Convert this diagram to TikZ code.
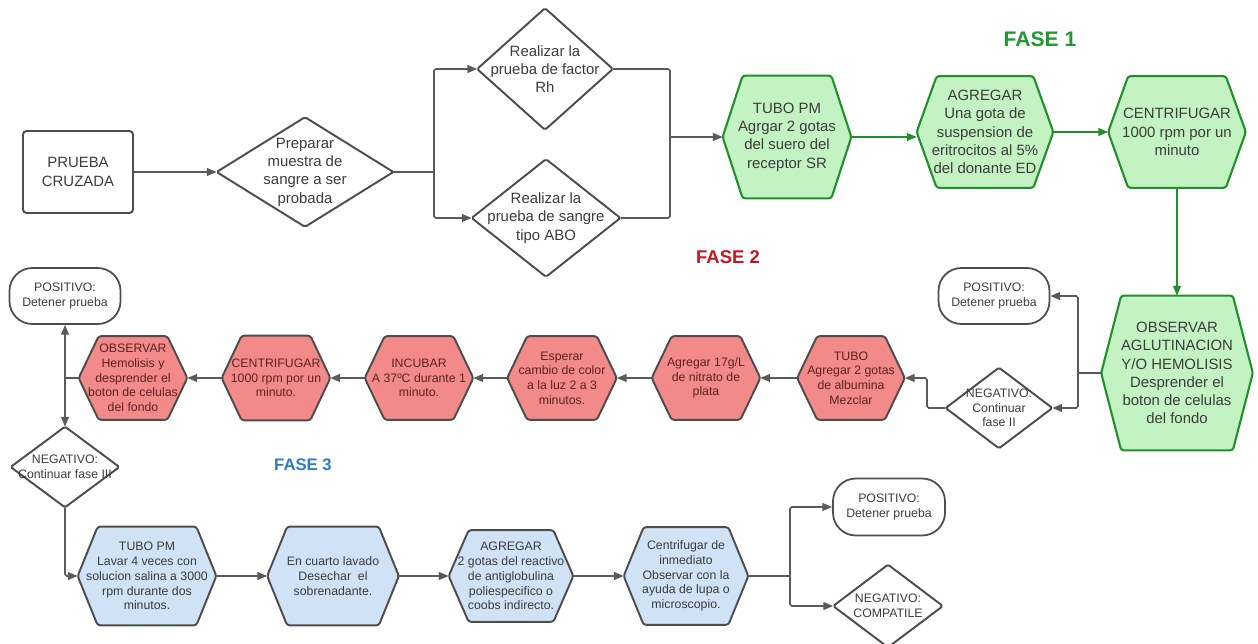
\documentclass[tikz,border=0pt]{standalone}
\usepackage{fontspec}
\setmainfont{Liberation Sans}
\usetikzlibrary{arrows.meta,backgrounds}

\newlength{\pxu}
\setlength{\pxu}{0.02cm}

\definecolor{lgreen}{HTML}{C3F2C3}
\definecolor{dgreen}{HTML}{22902A}
\definecolor{lred}{HTML}{F28A8A}
\definecolor{lblue}{HTML}{CFE2F6}
\definecolor{bordgray}{HTML}{4D4D4D}
\definecolor{linegray}{HTML}{5A5A5A}
\definecolor{txtgray}{HTML}{3C3C3C}
\definecolor{txtred}{HTML}{5E2222}
\definecolor{faseg}{HTML}{1F9A30}
\definecolor{faser}{HTML}{C8141E}
\definecolor{faseb}{HTML}{2C7BC4}

\tikzset{
	nbase/.style={inner sep=0pt, align=center, text=txtgray, font=\fontsize{8.5}{10.4}\selectfont},
	nsmall/.style={nbase, font=\fontsize{7}{8.4}\selectfont},
	sz/.style 2 args={minimum width=#1\pxu, minimum height=#2\pxu},
	endbox/.style={nsmall, draw=bordgray, line width=1pt, rounded corners=13pt},
	hexg/.style={fill=lgreen, draw=dgreen, line width=1.2pt, rounded corners=1.5pt},
	hexr/.style={fill=lred, draw=bordgray, line width=1.1pt, rounded corners=1.5pt},
	hexb/.style={fill=lblue, draw=bordgray, line width=1.1pt, rounded corners=1.5pt},
	diab/.style={fill=white, draw=bordgray, line width=1.1pt, rounded corners=1pt},
	conn/.style={draw=linegray, line width=0.9pt, rounded corners=1pt},
	arr/.style={conn, -{Triangle[length=5.5pt,width=4.4pt]}},
	garr/.style={arr, draw=dgreen},
	fase/.style={font=\bfseries\fontsize{#1}{#1}\selectfont}
}

\begin{document}
\begin{tikzpicture}[x=1\pxu, y=-1\pxu]
	\useasboundingbox (0,0) rectangle (1258,643);

	\node[fase=12, text=faseg] (fase1) at (1040,39) {FASE 1};
	\node[fase=10.5, text=faser] (fase2) at (728,257) {FASE 2};
	\node[fase=9.5, text=faseb] (fase3) at (303,465) {FASE 3};

	\node[nbase, sz={110}{82}, draw=bordgray, line width=1.1pt, rounded corners=2pt] (pc) at (78,172) {PRUEBA\\CRUZADA};
	\node[nbase, sz={176}{109}] (prep) at (305,172) {Preparar\\muestra de\\sangre a ser\\probada};
	\node[nbase, sz={135}{121}] (rh) at (545,69) {Realizar la\\prueba de factor\\Rh};
	\node[nbase, sz={148}{117}] (abo) at (546,218) {Realizar la\\prueba de sangre\\tipo ABO};

	\node[nbase, sz={128}{122}] (tubo1) at (787,137) {TUBO PM\\Agrgar 2 gotas\\del suero del\\receptor SR};
	\node[nbase, sz={136}{111}] (agr1) at (985,132) {AGREGAR\\Una gota de\\suspension de\\eritrocitos al 5\%\\del donante ED};
	\node[nbase, sz={137}{111}] (cent1) at (1177,132) {CENTRIFUGAR\\1000 rpm por un\\minuto};
	\node[nbase, sz={151}{154}] (obs1) at (1177,373) {OBSERVAR\\AGLUTINACION\\Y/O HEMOLISIS\\Desprender el\\boton de celulas\\del fondo};
	\node[endbox, sz={111}{56}] (pos1) at (994,296) {POSITIVO:\\Detener prueba};
	\node[nsmall, sz={106}{80}] (neg1) at (999,408) {NEGATIVO:\\Continuar\\fase II};

	\node[nsmall, text=txtred, sz={107}{83}] (tubo2) at (851,378) {TUBO\\Agregar 2 gotas\\de albumina\\Mezclar};
	\node[nsmall, text=txtred, sz={108}{83}] (agr2) at (706,378) {Agregar 17g/L\\de nitrato de\\plata};
	\node[nsmall, text=txtred, sz={109}{83}] (esp2) at (562,378) {Esperar\\cambio de color\\a la luz 2 a 3\\minutos.};
	\node[nsmall, text=txtred, sz={108}{83}] (inc2) at (419,378) {INCUBAR\\A 37ºC durante 1\\minuto.};
	\node[nsmall, text=txtred, sz={108}{84}] (cent2) at (276,378) {CENTRIFUGAR\\1000 rpm por un\\minuto.};
	\node[nsmall, text=txtred, sz={108}{83}] (obs2) at (133,378) {OBSERVAR\\Hemolisis y\\desprender el\\boton de celulas\\del fondo};
	\node[endbox, sz={111}{56}] (pos2) at (65,296) {POSITIVO:\\Detener prueba};
	\node[nsmall, sz={108}{80}] (neg2) at (65,467) {NEGATIVO:\\Continuar fase III};

	\node[nsmall, sz={138}{98}] (tubo3) at (147,576) {TUBO PM\\Lavar 4 veces con\\solucion salina a 3000\\rpm durante dos\\minutos.};
	\node[nsmall, sz={131}{98}] (lav3) at (333,576) {En cuarto lavado\\Desechar\ \ el\\sobrenadante.};
	\node[nsmall, sz={124}{91}] (agr3) at (511,576) {AGREGAR\\2 gotas del reactivo\\de antiglobulina\\poliespecifico o\\coobs indirecto.};
	\node[nsmall, sz={124}{97}] (cent3) at (686,576) {Centrifugar de\\inmediato\\Observar con la\\ayuda de lupa o\\microscopio.};
	\node[endbox, sz={112}{57}] (pos3) at (889,507) {POSITIVO:\\Detener prueba};
	\node[nsmall, sz={109}{82}] (neg3) at (888,606) {NEGATIVO:\\COMPATILE};

	\begin{scope}[on background layer]
		\draw[hexg] foreach \n in {tubo1,agr1,cent1,obs1} {([xshift=20\pxu]\n.north west) -- ([xshift=-20\pxu]\n.north east) -- (\n.east) -- ([xshift=-20\pxu]\n.south east) -- ([xshift=20\pxu]\n.south west) -- (\n.west) -- cycle};
		\draw[hexr] foreach \n in {tubo2,agr2,esp2,inc2,cent2,obs2} {([xshift=20\pxu]\n.north west) -- ([xshift=-20\pxu]\n.north east) -- (\n.east) -- ([xshift=-20\pxu]\n.south east) -- ([xshift=20\pxu]\n.south west) -- (\n.west) -- cycle};
		\draw[hexb] foreach \n in {tubo3,lav3,agr3,cent3} {([xshift=20\pxu]\n.north west) -- ([xshift=-20\pxu]\n.north east) -- (\n.east) -- ([xshift=-20\pxu]\n.south east) -- ([xshift=20\pxu]\n.south west) -- (\n.west) -- cycle};
		\draw[diab] foreach \n in {prep,rh,abo,neg1,neg2,neg3} {(\n.north) -- (\n.east) -- (\n.south) -- (\n.west) -- cycle};
	\end{scope}

	\coordinate (j1) at (434,172);
	\coordinate (j2) at (670,137);
	\coordinate (j3) at (1078,373);
	\coordinate (j4) at (927,408);
	\coordinate (j5) at (65,378);
	\coordinate (j6) at (790,576);

	\draw[arr] (pc.east) -- (prep.west);
	\draw[conn] (prep.east) -- (j1);
	\draw[arr] (j1) |- (rh.west);
	\draw[arr] (j1) |- (abo.west);
	\draw[conn] (rh.east) -| (j2);
	\draw[conn] (abo.east) -| (j2);
	\draw[arr] (j2) -- (tubo1.west);

	\draw[garr] (tubo1.east) -- (tubo1.east -| agr1.west);
	\draw[garr] (agr1.east) -- (cent1.west);
	\draw[garr] (cent1.south) -- (obs1.north);

	\draw[conn] (obs1.west) -- (j3);
	\draw[arr] (j3) |- (pos1.east);
	\draw[arr] (j3) |- (neg1.east);
	\draw[arr] (neg1.west) -- (j4) |- (tubo2.east);

	\draw[arr] (tubo2.west) -- (agr2.east);
	\draw[arr] (agr2.west) -- (esp2.east);
	\draw[arr] (esp2.west) -- (inc2.east);
	\draw[arr] (inc2.west) -- (cent2.east);
	\draw[arr] (cent2.west) -- (obs2.east);
	\draw[conn] (obs2.west) -- (j5);
	\draw[arr] (j5) -- (pos2.south);
	\draw[arr] (j5) -- (neg2.north);

	\draw[arr] (neg2.south) |- (tubo3.west);
	\draw[arr] (tubo3.east) -- (lav3.west);
	\draw[arr] (lav3.east) -- (agr3.west);
	\draw[arr] (agr3.east) -- (cent3.west);
	\draw[conn] (cent3.east) -- (j6);
	\draw[arr] (j6) |- (pos3.west);
	\draw[arr] (j6) |- (neg3.west);
\end{tikzpicture}
\end{document}
